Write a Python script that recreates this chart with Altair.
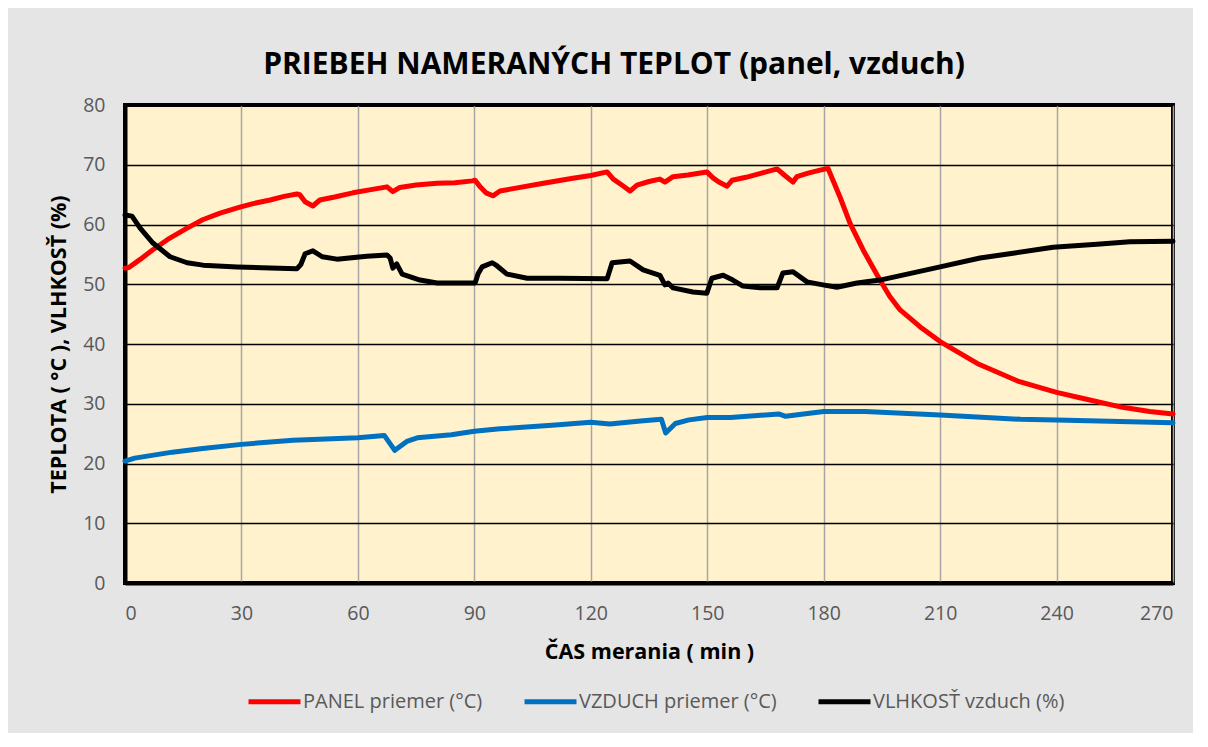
import altair as alt
import pandas as pd

# ---- data ----
SERIES = ["PANEL priemer (°C)", "VZDUCH priemer (°C)", "VLHKOSŤ vzduch (%)"]
COLORS = ["#ff0000", "#0070c0", "#000000"]
WIDTHS = [5, 5, 3]

panel_t = [0, 1, 4, 7, 11, 16, 20, 24.5, 29.6, 33, 37.4, 41, 44.3, 45, 46.4, 48.4, 50.2, 54,
           58.7, 63, 67.5, 69, 70.8, 75, 80.4, 85, 89.5, 90.2, 91.5, 93, 94.8, 96.6, 100, 107.8,
           115, 120, 124.2, 125.8, 128, 130.1, 131.9, 135, 137.8, 139.1, 141.2, 145, 149.9,
           151.5, 153, 155.1, 156.4, 160, 164, 168, 170, 172.1, 173.1, 176, 179.1, 181.1,
           184.2, 186.8, 190.2, 194.5, 197, 199.7, 204.8, 210, 220, 230, 240, 246, 257, 264, 270]
panel_v = [52.7, 52.8, 54.2, 55.7, 57.5, 59.4, 60.8, 61.9, 62.9, 63.5, 64.1, 64.7, 65.1, 65.0,
           63.8, 63.1, 64.1, 64.6, 65.3, 65.8, 66.3, 65.5, 66.2, 66.6, 66.9, 67.0, 67.3, 67.4,
           66.3, 65.3, 64.8, 65.6, 66.0, 66.9, 67.7, 68.2, 68.8, 67.6, 66.6, 65.6, 66.6, 67.2,
           67.6, 67.1, 68.0, 68.3, 68.8, 67.8, 67.1, 66.4, 67.4, 67.9, 68.6, 69.3, 68.2, 67.1,
           68.0, 68.6, 69.1, 69.4, 64.6, 60.2, 55.7, 50.7, 48.0, 45.7, 42.9, 40.4, 36.6, 33.8,
           31.9, 31.0, 29.4, 28.7, 28.3]

air_t = [0, 2.5, 12.2, 20, 30, 43.3, 60, 66.8, 69.5, 72.6, 75.3, 84.1, 90, 96.6, 110, 120,
         124.9, 132.8, 138.2, 139.3, 141.8, 145.3, 150, 156, 168.4, 170.2, 180, 190.7, 210,
         230.7, 240, 270]
air_v = [20.4, 20.9, 21.9, 22.5, 23.2, 23.9, 24.3, 24.7, 22.2, 23.7, 24.3, 24.8, 25.4, 25.8,
         26.4, 26.9, 26.6, 27.1, 27.4, 25.1, 26.7, 27.3, 27.7, 27.7, 28.3, 27.9, 28.7, 28.7,
         28.1, 27.4, 27.3, 26.8]

hum_t = [0, 1.8, 3.9, 7.2, 11.6, 16, 20.1, 28.9, 37.4, 44.3, 45.3, 46.4, 48.4, 50.8, 54.6,
         62.3, 67.5, 68.3, 69, 70, 71.4, 76, 80.4, 86.3, 90.2, 91, 92, 94.6, 95.8, 98.4, 103.6,
         112, 124.2, 125.5, 130.1, 133.5, 137.8, 139.1, 139.9, 141.2, 146.3, 149.9, 151.2,
         154.1, 156.6, 159.2, 163.6, 168, 169.5, 172.1, 175.7, 179.8, 183.4, 188.6, 194.5,
         203, 210, 220.3, 228.8, 239.1, 250.4, 258.9, 270]
hum_v = [61.6, 61.4, 59.4, 56.9, 54.6, 53.6, 53.2, 52.9, 52.7, 52.6, 53.3, 55.1, 55.6, 54.6,
         54.2, 54.7, 54.9, 54.4, 52.7, 53.4, 51.7, 50.7, 50.2, 50.2, 50.2, 51.8, 52.9, 53.6,
         53.1, 51.7, 51.0, 51.0, 50.9, 53.6, 53.9, 52.4, 51.5, 49.9, 50.2, 49.4, 48.7, 48.5,
         51.0, 51.5, 50.7, 49.7, 49.4, 49.4, 51.9, 52.1, 50.4, 49.9, 49.5, 50.2, 50.7, 51.9,
         52.9, 54.4, 55.2, 56.2, 56.7, 57.1, 57.2]

x_ticks = [0, 30, 60, 90, 120, 150, 180, 210, 240, 270]
y_ticks = [0, 10, 20, 30, 40, 50, 60, 70, 80]

frames = []
for name, ts, vs in zip(SERIES, [panel_t, air_t, hum_t], [panel_v, air_v, hum_v]):
    frames.append(pd.DataFrame({"t": ts, "v": vs, "series": name}))
df = pd.concat(frames, ignore_index=True)

FONT = "Open Sans"
GREY = "#595959"

legend_kw = dict(title=None, orient="none", legendX=121, legendY=568,
                 direction="horizontal", symbolType="stroke", symbolSize=2700,
                 labelFontSize=20, labelFont=FONT, labelColor=GREY, columnPadding=31,
                 labelOffset=0, labelLimit=0)

chart = alt.Chart(df).mark_line(strokeCap="round", strokeJoin="round").encode(
    x=alt.X("t:Q", scale=alt.Scale(domain=[0, 270], nice=False),
            axis=alt.Axis(values=x_ticks, title="ČAS merania ( min )", format="d")),
    y=alt.Y("v:Q", scale=alt.Scale(domain=[0, 80], nice=False),
            axis=alt.Axis(values=y_ticks, title="TEPLOTA ( °C ), VLHKOSŤ (%)", format="d")),
    color=alt.Color("series:N", scale=alt.Scale(domain=SERIES, range=COLORS),
                    legend=alt.Legend(**legend_kw)),
    strokeWidth=alt.StrokeWidth("series:N", scale=alt.Scale(domain=SERIES, range=WIDTHS),
                                legend=alt.Legend(**legend_kw)),
    detail="series:N",
).properties(
    width=1048, height=478,
    title=alt.TitleParams("PRIEBEH NAMERANÝCH TEPLOT (panel, vzduch)", fontSize=30,
                          font=FONT, fontWeight="bold", color="#000000", anchor="middle",
                          offset=15, dx=-35),
    autosize=alt.AutoSizeParams(type="none"),
    padding={"left": 117, "top": 97, "right": 20, "bottom": 150},
    background="#e5e5e5",
).configure_view(
    fill="#fff2cc", stroke="#000000", strokeWidth=4
).configure_axis(
    labelFont=FONT, labelFontSize=19.5, labelColor=GREY, titleFont=FONT, titleFontSize=21.5,
    titleFontWeight="bold", titleColor="#000000", domainColor="#000000", domainWidth=4,
    ticks=False, gridWidth=1.5,
).configure_axisX(
    gridColor="#a6a6a6", labelPadding=21, titlePadding=19,
).configure_axisY(
    gridColor="#000000", labelPadding=20, titlePadding=12,
)

chart.save("out.html", embed_options={"renderer": "svg", "actions": False})
